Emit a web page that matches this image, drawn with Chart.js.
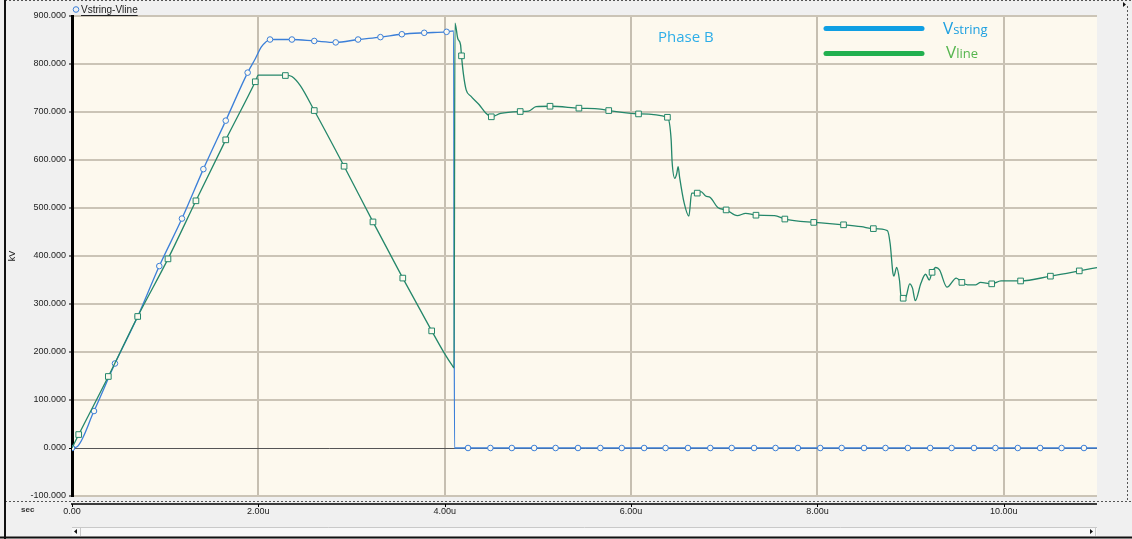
<!DOCTYPE html>
<html>
<head>
<meta charset="utf-8">
<script src="https://cdn.jsdelivr.net/npm/chart.js@4/dist/chart.umd.min.js"></script>
<style>
  html, body { margin: 0; padding: 0; background: #f0f0f0; }
  canvas { display: block; }
</style>
</head>
<body>
<canvas id="c" width="1132" height="539"></canvas>
<script>
// Time axis in microseconds, voltages in kV.
const stringT = [0, 0.05, 0.236, 0.461, 0.705, 0.937, 1.18, 1.41, 1.65, 1.885, 1.97, 2.03, 2.08, 2.125, 2.36, 2.6, 2.83, 3.07, 3.31, 3.54, 3.78, 4.02, 4.095, 4.105, 11.0];
const stringV = [0, 2, 77, 176, 274, 379, 478, 581, 682, 782, 812, 835, 846, 851, 851, 848, 845, 851, 856, 862, 865, 867, 869, 0, 0];

const stringMarkT = [0, 0.236, 0.461, 0.705, 0.937, 1.18, 1.41, 1.65, 1.885, 2.125, 2.36, 2.6, 2.83, 3.07, 3.31, 3.54, 3.78, 4.02,
  4.25, 4.49, 4.72, 4.96, 5.19, 5.43, 5.67, 5.90, 6.14, 6.37, 6.61, 6.85, 7.08, 7.32, 7.55, 7.79, 8.03, 8.26, 8.50, 8.73,
  8.97, 9.21, 9.44, 9.68, 9.91, 10.15, 10.39, 10.62, 10.86];
const stringMarkV = [0, 77, 176, 274, 379, 478, 581, 682, 782, 851, 851, 848, 845, 851, 856, 862, 865, 867,
  0, 0, 0, 0, 0, 0, 0, 0, 0, 0, 0, 0, 0, 0, 0, 0, 0, 0, 0, 0,
  0, 0, 0, 0, 0, 0, 0, 0, 0];

const lineT = [0, 0.072, 0.39, 0.705, 1.03, 1.33, 1.65, 1.967, 2.0, 2.29, 2.36, 2.45, 2.6, 2.92, 3.23, 3.55, 3.86, 4.00, 4.08, 4.10, 4.11, 4.14,
  4.17, 4.18, 4.20, 4.23, 4.28, 4.37, 4.44, 4.50, 4.60, 4.81, 4.90, 4.98, 5.13, 5.44, 5.67, 5.76, 6.08, 6.39, 6.43, 6.44,
  6.47, 6.49, 6.505, 6.52, 6.57, 6.62, 6.65, 6.71, 6.75, 6.80, 6.85, 6.93, 7.02, 7.14, 7.23, 7.34, 7.54, 7.65, 7.96, 8.04,
  8.28, 8.47, 8.60, 8.75, 8.78, 8.81, 8.82, 8.85, 8.88, 8.90, 8.92, 8.95, 8.99, 9.02, 9.05, 9.11, 9.16, 9.20, 9.23, 9.27,
  9.31, 9.39, 9.49, 9.55, 9.61, 9.70, 9.75, 9.87, 9.97, 10.18, 10.50, 10.81, 11.0];
const lineV = [0, 28, 149, 274, 394, 515, 642, 763, 777, 777, 774, 755, 703, 587, 471, 354, 244, 196, 172, 167, 885, 853,
  840, 817, 780, 746, 733, 715, 698, 690, 697, 701, 702, 711, 712, 708, 706, 703, 696, 689, 642, 597,
  562, 572, 586, 565, 510, 483, 531, 531, 534, 525, 522, 501, 496, 484, 489, 485, 484, 477, 470, 469,
  465, 461, 457, 453, 426, 364, 358, 376, 350, 312, 312, 315, 342, 333, 307, 343, 362, 350, 366, 376,
  371, 335, 354, 345, 340, 340, 345, 342, 348, 348, 358, 369, 376];

const lineMarkT = [0.072, 0.39, 0.705, 1.03, 1.33, 1.65, 1.967, 2.29, 2.6, 2.92, 3.23, 3.55, 3.86, 4.18, 4.50, 4.81, 5.13, 5.44,
  5.76, 6.08, 6.39, 6.71, 7.02, 7.34, 7.65, 7.96, 8.28, 8.60, 8.92, 9.23, 9.55, 9.87, 10.18, 10.50, 10.81];
const lineMarkV = [28, 149, 274, 394, 515, 642, 763, 776, 703, 587, 471, 354, 244, 817, 690, 701, 712, 708,
  703, 696, 689, 531, 496, 485, 477, 470, 465, 457, 312, 366, 345, 342, 348, 358, 369];

const xTicks = [0, 2, 4, 6, 8, 10];
const xTickLabels = ['0.00', '2.00u', '4.00u', '6.00u', '8.00u', '10.00u'];

const seriesNames = ['Vstring', 'Vline'];
const traceTitle = 'Vstring-Vline';
const phaseLabel = 'Phase B';

const zip = (t, v) => t.map((x, i) => ({ x: x, y: v[i] }));

const BLUE = '#3b7fd8';
const TEAL = '#24876a';
const CREAM = '#fdf9ee';

const scopeDecor = {
  id: 'scopeDecor',
  beforeDraw(chart) {
    const { ctx, chartArea: a } = chart;
    ctx.save();
    ctx.fillStyle = '#f0f0f0';
    ctx.fillRect(0, 0, chart.width, chart.height);
    ctx.fillStyle = CREAM;
    ctx.fillRect(a.left, a.top, a.right - a.left, a.bottom - a.top);
    ctx.restore();
  },
  afterDraw(chart) {
    const { ctx, chartArea: a } = chart;
    const xs = chart.scales.x;
    ctx.save();

    // separator between plot panel and time axis panel
    ctx.strokeStyle = '#555';
    ctx.lineWidth = 1;
    ctx.setLineDash([2, 2]);
    ctx.beginPath(); ctx.moveTo(5, 501.5); ctx.lineTo(chart.width, 501.5); ctx.stroke();
    ctx.beginPath(); ctx.moveTo(1127.5, 6); ctx.lineTo(1127.5, 501); ctx.stroke();
    ctx.beginPath(); ctx.moveTo(5, 0.5); ctx.lineTo(chart.width, 0.5); ctx.stroke();
    ctx.setLineDash([]);

    // time axis baseline with tick marks
    ctx.strokeStyle = '#000';
    ctx.lineWidth = 1.5;
    ctx.beginPath(); ctx.moveTo(a.left - 1, 504); ctx.lineTo(a.right, 504); ctx.stroke();
    ctx.lineWidth = 1;
    xTicks.forEach(t => {
      const px = Math.round(xs.getPixelForValue(t)) + 0.5;
      ctx.beginPath(); ctx.moveTo(px, 504); ctx.lineTo(px, 507); ctx.stroke();
    });

    // outer frame
    ctx.strokeStyle = '#111';
    ctx.lineWidth = 2;
    ctx.beginPath(); ctx.moveTo(5, 0); ctx.lineTo(5, chart.height); ctx.stroke();
    ctx.beginPath(); ctx.moveTo(0, 537.5); ctx.lineTo(chart.width, 537.5); ctx.stroke();

    // scroll bar
    ctx.fillStyle = '#f8f8f8';
    ctx.fillRect(a.left, 527, a.right - a.left, 9);
    ctx.strokeStyle = '#c9c9c9';
    ctx.lineWidth = 1;
    ctx.beginPath(); ctx.moveTo(a.left, 527.5); ctx.lineTo(a.right, 527.5); ctx.stroke();
    ctx.beginPath(); ctx.moveTo(80.5, 527); ctx.lineTo(80.5, 536); ctx.stroke();
    ctx.beginPath(); ctx.moveTo(1095.5, 527); ctx.lineTo(1095.5, 536); ctx.stroke();
    ctx.fillStyle = '#111';
    ctx.beginPath(); ctx.moveTo(74, 531.5); ctx.lineTo(77, 529); ctx.lineTo(77, 534); ctx.closePath(); ctx.fill();
    ctx.beginPath(); ctx.moveTo(1093, 531.5); ctx.lineTo(1090, 529); ctx.lineTo(1090, 534); ctx.closePath(); ctx.fill();
    ctx.beginPath(); ctx.moveTo(1126, 4.5); ctx.lineTo(1123, 2); ctx.lineTo(1123, 7); ctx.closePath(); ctx.fill();

    // trace title in the header strip
    ctx.strokeStyle = BLUE;
    ctx.lineWidth = 1;
    ctx.beginPath(); ctx.arc(76, 9.5, 2.8, 0, Math.PI * 2); ctx.stroke();
    ctx.font = '10px "Liberation Sans", Arial, sans-serif';
    ctx.fillStyle = '#222';
    ctx.textBaseline = 'alphabetic';
    ctx.textAlign = 'left';
    ctx.fillText(traceTitle, 81, 13);
    const tw = ctx.measureText(traceTitle).width;
    ctx.strokeStyle = '#222';
    ctx.beginPath(); ctx.moveTo(81, 15.5); ctx.lineTo(81 + tw, 15.5); ctx.stroke();

    // axis captions
    ctx.font = 'bold 8px "Liberation Sans", Arial, sans-serif';
    ctx.fillStyle = '#333';
    ctx.fillText('sec', 21, 512);

    // phase label and series key
    ctx.font = '15px "Open Sans", sans-serif';
    ctx.fillStyle = '#2eaee8';
    ctx.fillText(phaseLabel, 658, 41.5);

    ctx.lineCap = 'round';
    ctx.lineWidth = 5;
    ctx.strokeStyle = '#0f9fe3';
    ctx.beginPath(); ctx.moveTo(826, 28.5); ctx.lineTo(922, 28.5); ctx.stroke();
    ctx.strokeStyle = '#22b04f';
    ctx.beginPath(); ctx.moveTo(826, 53.5); ctx.lineTo(922, 53.5); ctx.stroke();

    const drawKey = (name, x, y, color) => {
      ctx.fillStyle = color;
      ctx.font = '17px "Open Sans", sans-serif';
      ctx.fillText(name[0], x, y);
      const w = ctx.measureText(name[0]).width;
      ctx.font = '13px "Open Sans", sans-serif';
      ctx.fillText(name.slice(1), x + w, y);
    };
    drawKey(seriesNames[0], 943, 34, '#1ea0e0');
    drawKey(seriesNames[1], 946, 58, '#56b54e');

    ctx.restore();
  }
};

new Chart(document.getElementById('c'), {
  type: 'line',
  data: {
    datasets: [
      { label: seriesNames[1] + ' markers', data: zip(lineMarkT, lineMarkV), showLine: false,
        pointStyle: 'rect', pointRadius: 4, borderColor: TEAL, backgroundColor: CREAM, pointBorderWidth: 1 },
      { label: seriesNames[1], data: zip(lineT, lineV), borderColor: TEAL, borderWidth: 1.3,
        pointRadius: 0, cubicInterpolationMode: 'monotone', fill: false },
      { label: seriesNames[0] + ' markers', data: zip(stringMarkT, stringMarkV), showLine: false,
        pointStyle: 'circle', pointRadius: 2.8, borderColor: BLUE, backgroundColor: CREAM, pointBorderWidth: 1 },
      { label: seriesNames[0], data: zip(stringT, stringV), borderColor: BLUE, borderWidth: 1.3,
        pointRadius: 0, cubicInterpolationMode: 'monotone', fill: false }
    ]
  },
  options: {
    responsive: false,
    animation: false,
    devicePixelRatio: 1,
    layout: { padding: { top: 16, right: 35, left: 0, bottom: 0 } },
    plugins: { legend: { display: false }, tooltip: { enabled: false } },
    scales: {
      x: {
        type: 'linear', min: 0, max: 11,
        afterFit(s) { s.height = 43; },
        afterBuildTicks(s) { s.ticks = xTicks.map(v => ({ value: v })); },
        border: { display: false },
        grid: { color: '#c6bfb1', lineWidth: 2, drawTicks: false },
        ticks: {
          padding: 10, autoSkip: false, maxRotation: 0, color: '#222',
          font: { family: '"Liberation Sans", Arial, sans-serif', size: 9 },
          callback: v => xTickLabels[xTicks.indexOf(v)]
        }
      },
      y: {
        min: -100, max: 900,
        afterFit(s) { s.width = 72; },
        border: { display: true, color: '#000', width: 3 },
        grid: {
          color: c => c.tick && c.tick.value === 0 ? '#555' : '#cbc4b6',
          lineWidth: c => c.tick && c.tick.value === 0 ? 1 : 2,
          tickColor: '#000', tickLength: 3, tickWidth: 1
        },
        title: { display: true, text: 'kV', color: '#222', padding: { top: 7, bottom: 0 },
          font: { family: '"Liberation Sans", Arial, sans-serif', size: 9 } },
        ticks: {
          stepSize: 100, padding: 3, color: '#222',
          font: { family: '"Liberation Sans", Arial, sans-serif', size: 9 },
          callback: v => v.toFixed(3)
        }
      }
    }
  },
  plugins: [scopeDecor]
});
</script>
</body>
</html>
